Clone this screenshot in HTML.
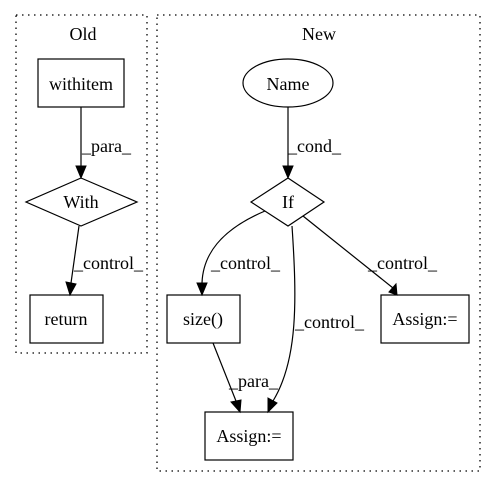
<!DOCTYPE html><html><head><style>body{margin:0;background:#fff}svg text{font-family:"Liberation Serif",serif;font-size:18px}</style></head><body>
<svg width="496" height="488" xmlns="http://www.w3.org/2000/svg">
<rect width="496" height="488" fill="#fff"/>
<g fill="none" stroke="#000" stroke-dasharray="1.5,4.5" stroke-width="1.3">
<rect x="16" y="15" width="131" height="338"/>
<rect x="157" y="15" width="323" height="456"/>
</g>
<g text-anchor="middle" fill="#000">
<text x="83" y="40">Old</text><text x="319" y="40">New</text>
</g>
<g fill="none" stroke="#000" stroke-width="1.2">
<rect x="38" y="59" width="86" height="48"/>
<polygon points="81,178 137,202 81,226 26,202"/>
<rect x="30" y="295" width="73" height="48"/>
<ellipse cx="288" cy="83" rx="45" ry="24"/>
<polygon points="288,178 324,202 288,226 251,202"/>
<rect x="167" y="295" width="73" height="48"/>
<rect x="381" y="295" width="88" height="48"/>
<rect x="205" y="412" width="88" height="48"/>
<path d="M81,107 V166"/>
<path d="M79,226 L71,283"/>
<path d="M288,107 V166"/>
<path d="M265,211 C220,230 203,255 202,283"/>
<path d="M303,216 L393,288"/>
<path d="M292,226 C297,300 298,360 273,401"/>
<path d="M213,343 L236,401"/>
</g>
<g fill="#000" stroke="#000">
<polygon points="76,166 86,166 81,178"/>
<polygon points="66,282 76,284 70,295"/>
<polygon points="283,166 293,166 288,178"/>
<polygon points="197,283 207,283 202,295"/>
<polygon points="389,292 396,284 397,295"/>
<polygon points="268,398 277,403 268,412"/>
<polygon points="231,402 241,400 240,412"/>
</g>
<g fill="#000" text-anchor="middle">
<text x="81" y="90">withitem</text>
<text x="81" y="208">With</text>
<text x="66" y="325">return</text>
<text x="288" y="90">Name</text>
<text x="288" y="208">If</text>
<text x="203" y="325">size()</text>
<text x="425" y="325">Assign:=</text>
<text x="249" y="442">Assign:=</text>
</g>
<g fill="#000">
<text x="82" y="152">_para_</text>
<text x="74" y="269">_control_</text>
<text x="288" y="152">_cond_</text>
<text x="211" y="269">_control_</text>
<text x="295" y="328">_control_</text>
<text x="368" y="269">_control_</text>
<text x="229" y="387">_para_</text>
</g>
</svg></body></html>
